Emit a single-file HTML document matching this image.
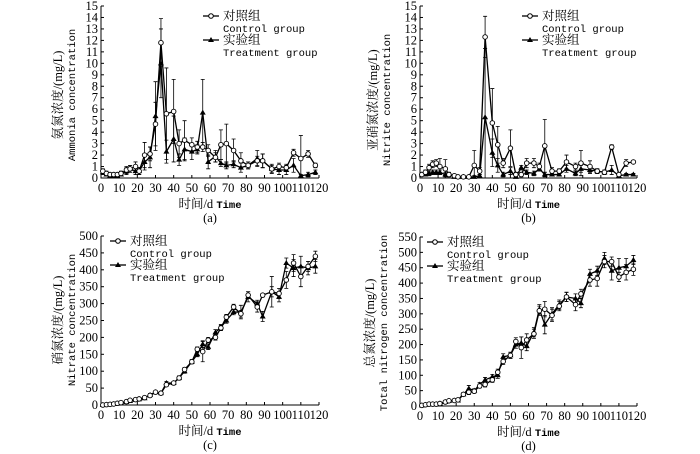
<!DOCTYPE html>
<html><head><meta charset="utf-8"><style>
body{margin:0;background:#fff}
svg{display:block}
text{font-family:"Liberation Serif","Noto Serif CJK SC",serif;fill:#000}
.t{font-size:12.5px}
.m{font-family:"Liberation Mono","Noto Sans CJK SC",monospace;font-size:10.5px}
.c{font-family:"Liberation Serif","Noto Serif CJK SC",serif;font-size:12.5px}
</style></head><body>
<svg id="fig" width="700" height="454" viewBox="0 0 700 454" xmlns="http://www.w3.org/2000/svg"></svg>
<script>
const days=[1,3,5,7,9,11,14,16,19,21,24,27,30,33,36,40,43,46,50,53,56,59,63,66,69,73,77,81,86,89,94,98,102,106,110,114,118];
const ammoniaCtrl=[0.6,0.4,0.3,0.3,0.3,0.4,0.7,0.8,1.0,0.6,2.0,2.1,4.7,11.8,5.6,5.8,3.0,3.3,2.9,2.7,2.7,2.4,1.8,2.9,3.0,2.4,1.5,1.1,1.5,1.5,0.8,1.0,0.9,2.2,1.7,2.1,1.1];
const ammoniaTreat=[0.5,0.3,0.2,0.2,0.2,0.3,0.6,0.8,0.6,0.6,1.4,1.8,5.4,10.0,2.3,3.4,1.6,2.5,2.3,2.5,5.7,1.4,1.9,1.3,1.1,1.2,0.9,1.1,1.7,1.5,0.8,0.7,0.7,1.1,0.2,0.3,0.5];
const ammoniaCtrlErr=[0.2,0.2,0.1,0.1,0.1,0.2,0.3,0.3,0.4,0.3,1.1,0.6,1.9,2.1,4.0,2.8,1.2,1.7,0.6,0.5,0.4,0.5,0.4,1.3,1.7,1.0,0.7,0.3,0.4,0.6,0.3,0.3,0.3,0.3,2.0,0.3,0.2];
const ammoniaTreatErr=[0.2,0.1,0.1,0.1,0.1,0.1,0.3,0.3,0.3,0.3,0.7,0.9,3.0,3.0,1.0,2.0,0.5,1.0,0.7,0.4,2.9,0.6,0.5,0.3,0.3,0.3,0.4,0.3,0.7,0.6,0.4,0.4,0.4,0.6,0.1,0.2,0.2];
const nitriteCtrl=[0.3,0.5,0.9,1.2,1.3,1.0,0.8,0.3,0.2,0.1,0.1,0.1,1.1,0.6,12.3,4.8,2.9,1.3,2.6,0.3,0.3,1.3,1.3,1.0,2.8,0.6,0.6,1.4,1.0,1.3,1.0,0.6,0.5,2.7,0.3,1.3,1.4];
const nitriteTreat=[0.3,0.3,0.4,0.5,0.5,0.5,0.3,0.3,0.1,0.1,0.1,0.1,0.1,0.2,5.3,2.2,1.1,0.3,0.6,0.1,0.9,0.5,0.4,0.8,0.3,0.3,0.3,0.8,0.4,0.8,0.7,0.6,0.5,0.7,0.2,0.3,0.3];
const nitriteCtrlErr=[0.1,0.2,0.3,0.3,0.3,0.7,0.8,0.2,0.1,0.1,0.1,0.1,1.3,0.3,1.8,3.0,1.6,0.4,1.6,0.2,0.2,0.4,0.4,0.3,2.3,0.3,0.2,0.6,0.3,1.1,0.5,0.2,0.2,0.2,0.1,0.3,0.1];
const nitriteTreatErr=[0.1,0.1,0.2,0.2,0.2,0.2,0.2,0.1,0.05,0.05,0.05,0.05,0.1,0.1,6.0,1.2,0.6,0.2,0.3,0.05,0.2,0.2,0.2,0.2,0.2,0.1,0.1,0.3,0.2,0.3,0.3,0.2,0.2,0.4,0.1,0.1,0.1];
const nitrateCtrl=[0,1,2,3,5,7,10,14,16,18,22,28,38,35,60,65,80,105,128,165,158,192,200,228,260,290,270,325,290,325,335,330,370,420,380,410,440];
const nitrateTreat=[0,1,2,3,4,6,9,12,15,17,20,30,38,35,65,65,80,100,128,150,180,172,215,230,250,275,275,320,300,262,335,320,420,405,410,405,410];
const nitrateCtrlErr=[1,1,1,1,2,2,2,2,2,3,3,4,4,4,5,5,6,6,6,7,30,8,8,8,8,8,10,10,15,5,45,15,25,25,30,15,15];
const nitrateTreatErr=[1,1,1,1,2,2,2,2,2,3,3,4,4,4,5,5,6,6,6,7,10,8,8,8,8,8,20,15,10,15,15,15,15,25,30,20,20];
const tnCtrl=[2,4,6,6,6,8,13,17,18,20,38,45,48,65,70,85,110,145,165,210,190,215,235,310,315,295,325,355,330,365,410,415,470,470,420,435,445];
const tnTreat=[2,4,6,6,6,8,13,17,18,18,38,57,50,70,85,95,100,160,165,200,205,195,240,315,265,300,330,355,350,335,430,440,480,440,450,455,475];
const tnCtrlErr=[2,2,2,2,2,3,3,3,3,4,5,8,6,6,8,8,10,10,10,12,35,20,15,15,25,20,15,15,20,15,20,25,20,15,15,25,20];
const tnTreatErr=[2,2,2,2,2,3,3,3,3,4,5,10,6,6,8,8,10,10,10,12,20,15,15,15,30,20,15,15,15,15,15,15,20,30,30,25,15];
const ammoniaTicks=[0,1,2,3,4,5,6,7,8,9,10,11,12,13,14,15];
const nitrateTicks=[0,50,100,150,200,250,300,350,400,450,500];
const tnTicks=[0,50,100,150,200,250,300,350,400,450,500,550];
const xTicks=[0,10,20,30,40,50,60,70,80,90,100,110,120];

const NS="http://www.w3.org/2000/svg";
const svg=document.getElementById('fig');
function mk(tag,attrs,parent,txt){const e=document.createElementNS(NS,tag);for(const k in attrs)e.setAttribute(k,attrs[k]);if(txt!==undefined)e.textContent=txt;(parent||svg).appendChild(e);return e;}

function panel(o){
  const g=mk('g',{});
  
  
  const xs=v=>o.x0+(v/120)*(o.x1-o.x0);
  const ys=v=>o.y0-(v/o.ymax)*(o.y0-o.y1);
  const ax=mk('path',{d:`M${o.x0} ${o.y1}V${o.y0}H${o.x1}`,fill:'none',stroke:'#000','stroke-width':1},g);
  
  
  o.yt.forEach(v=>{const y=ys(v);mk('line',{x1:o.x0,x2:o.x0+3,y1:y,y2:y,stroke:'#000'},g);
    const t=mk('text',{x:o.x0-3,y:y+4,'text-anchor':'end',class:'t'},g,v);
    
    });
  xTicks.forEach(v=>{const x=xs(v);mk('line',{x1:x,x2:x,y1:o.y0,y2:o.y0-3,stroke:'#000'},g);
    const t=mk('text',{x:x,y:o.y0+14,'text-anchor':'middle',class:'t'},g,v);
    
    });
  const xt=mk('text',{x:(o.x0+o.x1)/2,y:o.y0+30,'text-anchor':'middle',class:'c'},g);
  
  
  mk('tspan',{},xt,'时间/d ');mk('tspan',{class:'m','font-weight':'bold','font-size':'11.5px'},xt,'Time');
  const pl=mk('text',{x:(o.x0+o.x1)/2,y:o.y0+44,'text-anchor':'middle',class:'c'},g,o.tag);
  
  
  const yt=mk('text',{transform:`translate(${o.lx},${o.ly}) rotate(-90)`,'text-anchor':'middle',class:'c'},g,o.cn);
  
  
  const ye=mk('text',{transform:`translate(${o.lx+13},${o.ly}) rotate(-90)`,'text-anchor':'middle',class:'m'},g,o.en);
  
  
  [[o.c,o.ce,'control'],[o.t,o.te,'treatment']].forEach(([vals,err,nm])=>{
    days.forEach((d,i)=>{const x=xs(d);
      const eb=mk('path',{d:`M${x} ${ys(Math.max(0,vals[i]-err[i]))}V${ys(Math.min(o.ymax*0.94,vals[i]+err[i]))}M${x-2} ${ys(Math.min(o.ymax*0.94,vals[i]+err[i]))}h4M${x-2} ${ys(Math.max(0,vals[i]-err[i]))}h4`,stroke:'#000','stroke-width':0.8,fill:'none'},g);
      
      });
    const ln=mk('polyline',{points:days.map((d,i)=>xs(d)+','+ys(vals[i])).join(' '),fill:'none',stroke:'#000','stroke-width':1.3},g);
    
    
  });
  days.forEach((d,i)=>{const x=xs(d),y=ys(o.t[i]);
    const m=mk('path',{d:`M${x} ${y-3}L${x+3} ${y+2}L${x-3} ${y+2}Z`,fill:'#000'},g);
    
    });
  days.forEach((d,i)=>{
    const m=mk('circle',{cx:xs(d),cy:ys(o.c[i]),r:2.3,fill:'#fff',stroke:'#000','stroke-width':0.9},g);
    
    });
  const lg=mk('g',{},g);
  
  
  const L=o.lg,Y=o.lgy;
  mk('line',{x1:L,x2:L+16,y1:Y,y2:Y,stroke:'#000','stroke-width':1.3},lg);
  mk('circle',{cx:L+8,cy:Y,r:2.3,fill:'#fff',stroke:'#000'},lg);
  mk('text',{x:L+20,y:Y+4,class:'c'},lg,'对照组');
  mk('text',{x:L+20,y:Y+16,class:'m'},lg,'Control group');
  mk('line',{x1:L,x2:L+16,y1:Y+24,y2:Y+24,stroke:'#000','stroke-width':1.3},lg);
  mk('path',{d:`M${L+8} ${Y+21}l3 5h-6z`,fill:'#000'},lg);
  mk('text',{x:L+20,y:Y+28,class:'c'},lg,'实验组');
  mk('text',{x:L+20,y:Y+40,class:'m'},lg,'Treatment group');
}
panel({name:'ammonia-panel',x0:101,x1:319,y0:178,y1:6,ymax:15,yt:ammoniaTicks,c:ammoniaCtrl,t:ammoniaTreat,ce:ammoniaCtrlErr,te:ammoniaTreatErr,tag:'(a)',cn:'氨氮浓度/(mg/L)',en:'Ammonia concentration',lx:62,ly:95,lg:203,lgy:16});
panel({name:'nitrite-panel',x0:420,x1:637,y0:178,y1:6,ymax:15,yt:ammoniaTicks,c:nitriteCtrl,t:nitriteTreat,ce:nitriteCtrlErr,te:nitriteTreatErr,tag:'(b)',cn:'亚硝氮浓度/(mg/L)',en:'Nitrite concentration',lx:377,ly:100,lg:522,lgy:16});
panel({name:'nitrate-panel',x0:101,x1:319,y0:405,y1:236,ymax:500,yt:nitrateTicks,c:nitrateCtrl,t:nitrateTreat,ce:nitrateCtrlErr,te:nitrateTreatErr,tag:'(c)',cn:'硝氮浓度/(mg/L)',en:'Nitrate concentration',lx:62,ly:320,lg:110,lgy:241});
panel({name:'total-nitrogen-panel',x0:420,x1:637,y0:406,y1:237,ymax:550,yt:tnTicks,c:tnCtrl,t:tnTreat,ce:tnCtrlErr,te:tnTreatErr,tag:'(d)',cn:'总氮浓度/(mg/L)',en:'Total nitrogen concentration',lx:374,ly:323,lg:427,lgy:242});
</script>
</body></html>
